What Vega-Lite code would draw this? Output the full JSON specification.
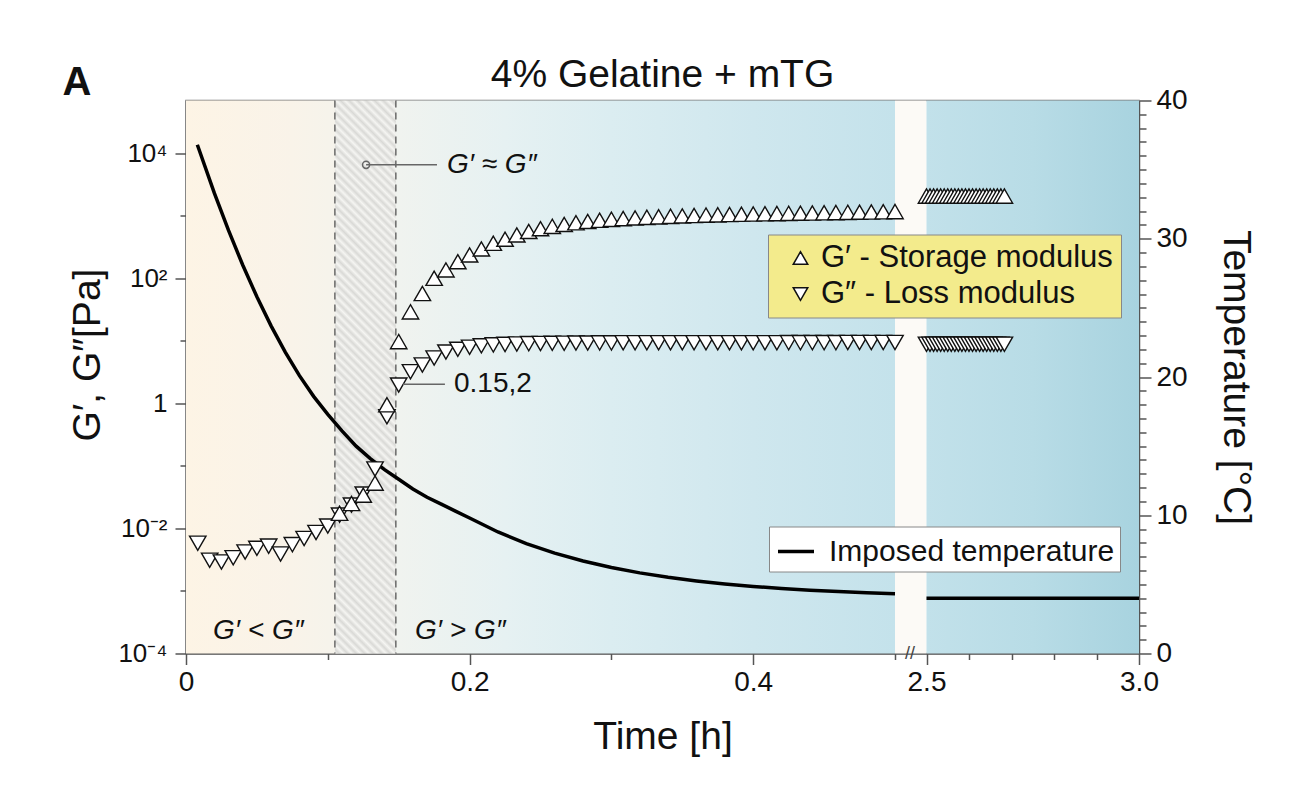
{
  "$schema": "https://vega.github.io/schema/vega-lite/v6.json",
  "autosize": {"type": "none"},
  "width": 953,
  "height": 553,
  "padding": {"left": 186, "top": 100.5, "right": 171, "bottom": 141.5},
  "background": "white",
  "title": {"text": "4% Gelatine + mTG", "fontSize": 39, "fontWeight": "normal", "font": "Liberation Sans", "color": "#111", "anchor": "middle", "frame": "group", "offset": -32},
  "config": {
    "font": "Liberation Sans",
    "view": {"stroke": "#777", "strokeWidth": 1.5},
    "axis": {"labelFont": "Liberation Sans", "titleFont": "Liberation Sans", "labelColor": "#111", "titleColor": "#111", "domainColor": "#555", "tickColor": "#555", "domainWidth": 1.5, "tickWidth": 1.5, "grid": false, "titleFontWeight": "normal", "labelFontSize": 28, "titleFontSize": 39, "labelOverlap": false, "labelFlush": false},
    "legend": {"labelFont": "Liberation Sans", "labelFontSize": 30, "labelColor": "#111", "labelLimit": 0, "strokeColor": "#888", "padding": 8},
    "text": {"font": "Liberation Sans", "color": "#111"}
  },
  "datasets": {
    "temp": [
      {"t": 0.008, "T": 36.8, "g": 1}, {"t": 0.02, "T": 33.3, "g": 1}, {"t": 0.03, "T": 30.6, "g": 1}, {"t": 0.04, "T": 28.1, "g": 1},
      {"t": 0.05, "T": 25.8, "g": 1}, {"t": 0.06, "T": 23.7, "g": 1}, {"t": 0.07, "T": 21.8, "g": 1}, {"t": 0.08, "T": 20.1, "g": 1},
      {"t": 0.09, "T": 18.6, "g": 1}, {"t": 0.1, "T": 17.3, "g": 1}, {"t": 0.11, "T": 16.1, "g": 1}, {"t": 0.12, "T": 15.0, "g": 1},
      {"t": 0.13, "T": 14.1, "g": 1}, {"t": 0.14, "T": 13.3, "g": 1}, {"t": 0.15, "T": 12.6, "g": 1}, {"t": 0.16, "T": 11.9, "g": 1},
      {"t": 0.17, "T": 11.3, "g": 1}, {"t": 0.18, "T": 10.8, "g": 1}, {"t": 0.19, "T": 10.3, "g": 1}, {"t": 0.2, "T": 9.8, "g": 1},
      {"t": 0.22, "T": 8.79, "g": 1}, {"t": 0.24, "T": 7.95, "g": 1}, {"t": 0.26, "T": 7.26, "g": 1}, {"t": 0.28, "T": 6.69, "g": 1},
      {"t": 0.3, "T": 6.22, "g": 1}, {"t": 0.32, "T": 5.83, "g": 1}, {"t": 0.34, "T": 5.51, "g": 1}, {"t": 0.36, "T": 5.25, "g": 1},
      {"t": 0.38, "T": 5.03, "g": 1}, {"t": 0.4, "T": 4.85, "g": 1}, {"t": 0.42, "T": 4.7, "g": 1}, {"t": 0.44, "T": 4.58, "g": 1},
      {"t": 0.46, "T": 4.48, "g": 1}, {"t": 0.48, "T": 4.39, "g": 1}, {"t": 0.5, "T": 4.33, "g": 1},
      {"t": 2.5, "T": 4.0, "g": 2}, {"t": 3.0, "T": 4.0, "g": 2}
    ],
    "mod": [
      {"t": 0.0083, "v": 0.0058, "s": "b"}, {"t": 0.0167, "v": 0.0031, "s": "b"}, {"t": 0.025, "v": 0.0029, "s": "b"}, {"t": 0.0333, "v": 0.0034, "s": "b"},
      {"t": 0.0417, "v": 0.0042, "s": "b"}, {"t": 0.05, "v": 0.0048, "s": "b"}, {"t": 0.0583, "v": 0.0052, "s": "b"}, {"t": 0.0667, "v": 0.0039, "s": "b"},
      {"t": 0.075, "v": 0.0055, "s": "b"}, {"t": 0.0833, "v": 0.0069, "s": "b"}, {"t": 0.0917, "v": 0.0086, "s": "b"}, {"t": 0.1, "v": 0.0109, "s": "b"},
      {"t": 0.1083, "v": 0.0163, "s": "b"}, {"t": 0.1167, "v": 0.0236, "s": "b"}, {"t": 0.125, "v": 0.0354, "s": "b"}, {"t": 0.1333, "v": 0.089, "s": "b"},
      {"t": 0.1417, "v": 0.61, "s": "b"}, {"t": 0.15, "v": 1.96, "s": "b"}, {"t": 0.1583, "v": 3.2, "s": "b"}, {"t": 0.1667, "v": 4.1, "s": "b"},
      {"t": 0.175, "v": 5.3, "s": "b"}, {"t": 0.1833, "v": 6.6, "s": "b"}, {"t": 0.1917, "v": 7.3, "s": "b"}, {"t": 0.2, "v": 7.9, "s": "b"},
      {"t": 0.2083, "v": 8.3, "s": "b"}, {"t": 0.2167, "v": 8.6, "s": "b"}, {"t": 0.225, "v": 8.75, "s": "b"}, {"t": 0.2333, "v": 8.9, "s": "b"},
      {"t": 0.2417, "v": 9.0, "s": "b"}, {"t": 0.25, "v": 9.05, "s": "b"}, {"t": 0.2583, "v": 9.1, "s": "b"}, {"t": 0.2667, "v": 9.15, "s": "b"},
      {"t": 0.275, "v": 9.2, "s": "b"}, {"t": 0.2833, "v": 9.2, "s": "b"}, {"t": 0.2917, "v": 9.25, "s": "b"}, {"t": 0.3, "v": 9.25, "s": "b"},
      {"t": 0.3083, "v": 9.3, "s": "b"}, {"t": 0.3167, "v": 9.3, "s": "b"}, {"t": 0.325, "v": 9.3, "s": "b"}, {"t": 0.3333, "v": 9.3, "s": "b"},
      {"t": 0.3417, "v": 9.3, "s": "b"}, {"t": 0.35, "v": 9.3, "s": "b"}, {"t": 0.3583, "v": 9.3, "s": "b"}, {"t": 0.3667, "v": 9.3, "s": "b"},
      {"t": 0.375, "v": 9.3, "s": "b"}, {"t": 0.3833, "v": 9.3, "s": "b"}, {"t": 0.3917, "v": 9.3, "s": "b"}, {"t": 0.4, "v": 9.3, "s": "b"},
      {"t": 0.4083, "v": 9.3, "s": "b"}, {"t": 0.4167, "v": 9.3, "s": "b"}, {"t": 0.425, "v": 9.35, "s": "b"}, {"t": 0.4333, "v": 9.35, "s": "b"},
      {"t": 0.4417, "v": 9.35, "s": "b"}, {"t": 0.45, "v": 9.35, "s": "b"}, {"t": 0.4583, "v": 9.35, "s": "b"}, {"t": 0.4667, "v": 9.4, "s": "b"},
      {"t": 0.475, "v": 9.4, "s": "b"}, {"t": 0.4833, "v": 9.4, "s": "b"}, {"t": 0.4917, "v": 9.4, "s": "b"}, {"t": 0.5, "v": 9.4, "s": "b"},
      {"t": 0.1083, "v": 0.0175, "s": "a"}, {"t": 0.1167, "v": 0.025, "s": "a"}, {"t": 0.125, "v": 0.034, "s": "a"}, {"t": 0.1333, "v": 0.053, "s": "a"},
      {"t": 0.1417, "v": 0.95, "s": "a"}, {"t": 0.15, "v": 9.7, "s": "a"}, {"t": 0.1583, "v": 29, "s": "a"}, {"t": 0.1667, "v": 57, "s": "a"},
      {"t": 0.175, "v": 100, "s": "a"}, {"t": 0.1833, "v": 136, "s": "a"}, {"t": 0.1917, "v": 184, "s": "a"}, {"t": 0.2, "v": 236, "s": "a"},
      {"t": 0.2083, "v": 294, "s": "a"}, {"t": 0.2167, "v": 363, "s": "a"}, {"t": 0.225, "v": 421, "s": "a"}, {"t": 0.2333, "v": 493, "s": "a"},
      {"t": 0.2417, "v": 560, "s": "a"}, {"t": 0.25, "v": 620, "s": "a"}, {"t": 0.2583, "v": 675, "s": "a"}, {"t": 0.2667, "v": 725, "s": "a"},
      {"t": 0.275, "v": 770, "s": "a"}, {"t": 0.2833, "v": 810, "s": "a"}, {"t": 0.2917, "v": 845, "s": "a"}, {"t": 0.3, "v": 875, "s": "a"},
      {"t": 0.3083, "v": 900, "s": "a"}, {"t": 0.3167, "v": 922, "s": "a"}, {"t": 0.325, "v": 942, "s": "a"}, {"t": 0.3333, "v": 960, "s": "a"},
      {"t": 0.3417, "v": 977, "s": "a"}, {"t": 0.35, "v": 993, "s": "a"}, {"t": 0.3583, "v": 1008, "s": "a"}, {"t": 0.3667, "v": 1021, "s": "a"},
      {"t": 0.375, "v": 1033, "s": "a"}, {"t": 0.3833, "v": 1044, "s": "a"}, {"t": 0.3917, "v": 1054, "s": "a"}, {"t": 0.4, "v": 1064, "s": "a"},
      {"t": 0.4083, "v": 1073, "s": "a"}, {"t": 0.4167, "v": 1082, "s": "a"}, {"t": 0.425, "v": 1090, "s": "a"}, {"t": 0.4333, "v": 1098, "s": "a"},
      {"t": 0.4417, "v": 1106, "s": "a"}, {"t": 0.45, "v": 1114, "s": "a"}, {"t": 0.4583, "v": 1122, "s": "a"}, {"t": 0.4667, "v": 1130, "s": "a"},
      {"t": 0.475, "v": 1138, "s": "a"}, {"t": 0.4833, "v": 1146, "s": "a"}, {"t": 0.4917, "v": 1155, "s": "a"}, {"t": 0.5, "v": 1164, "s": "a"},
      {"t": 2.5, "v": 8.8, "s": "b"}, {"t": 2.5083, "v": 8.8, "s": "b"}, {"t": 2.5167, "v": 8.8, "s": "b"}, {"t": 2.525, "v": 8.8, "s": "b"},
      {"t": 2.5333, "v": 8.8, "s": "b"}, {"t": 2.5417, "v": 8.8, "s": "b"}, {"t": 2.55, "v": 8.8, "s": "b"}, {"t": 2.5583, "v": 8.8, "s": "b"},
      {"t": 2.5667, "v": 8.8, "s": "b"}, {"t": 2.575, "v": 8.8, "s": "b"}, {"t": 2.5833, "v": 8.8, "s": "b"}, {"t": 2.5917, "v": 8.8, "s": "b"},
      {"t": 2.6, "v": 8.8, "s": "b"}, {"t": 2.6083, "v": 8.8, "s": "b"}, {"t": 2.6167, "v": 8.8, "s": "b"}, {"t": 2.625, "v": 8.8, "s": "b"},
      {"t": 2.6333, "v": 8.8, "s": "b"}, {"t": 2.6417, "v": 8.8, "s": "b"}, {"t": 2.65, "v": 8.8, "s": "b"}, {"t": 2.6583, "v": 8.8, "s": "b"},
      {"t": 2.6667, "v": 8.8, "s": "b"}, {"t": 2.675, "v": 8.8, "s": "b"}, {"t": 2.6833, "v": 8.8, "s": "b"},
      {"t": 2.5, "v": 2060, "s": "a"}, {"t": 2.5083, "v": 2060, "s": "a"}, {"t": 2.5167, "v": 2060, "s": "a"}, {"t": 2.525, "v": 2060, "s": "a"},
      {"t": 2.5333, "v": 2060, "s": "a"}, {"t": 2.5417, "v": 2060, "s": "a"}, {"t": 2.55, "v": 2060, "s": "a"}, {"t": 2.5583, "v": 2060, "s": "a"},
      {"t": 2.5667, "v": 2060, "s": "a"}, {"t": 2.575, "v": 2060, "s": "a"}, {"t": 2.5833, "v": 2060, "s": "a"}, {"t": 2.5917, "v": 2060, "s": "a"},
      {"t": 2.6, "v": 2060, "s": "a"}, {"t": 2.6083, "v": 2060, "s": "a"}, {"t": 2.6167, "v": 2060, "s": "a"}, {"t": 2.625, "v": 2060, "s": "a"},
      {"t": 2.6333, "v": 2060, "s": "a"}, {"t": 2.6417, "v": 2060, "s": "a"}, {"t": 2.65, "v": 2060, "s": "a"}, {"t": 2.6583, "v": 2060, "s": "a"},
      {"t": 2.6667, "v": 2060, "s": "a"}, {"t": 2.675, "v": 2060, "s": "a"}, {"t": 2.6833, "v": 2060, "s": "a"}
    ]
  },
  "encoding": {
    "x": {
      "field": "t", "type": "quantitative",
      "scale": {"domain": [0, 0.5, 2.5, 3], "range": [0, 709, 740.5, 953], "nice": false, "zero": false},
      "axis": {
        "values": [0, 0.1, 0.2, 0.3, 0.4, 0.5, 2.5, 2.6, 2.7, 2.8, 2.9, 3],
        "labelExpr": "datum.value == 0 ? '0' : datum.value == 0.2 ? '0.2' : datum.value == 0.4 ? '0.4' : datum.value == 2.5 ? '2.5' : datum.value == 3 ? '3.0' : ''",
        "tickSize": {"condition": {"test": "indexof([0, 0.2, 0.4, 2.5, 3], datum.value) >= 0", "value": 11}, "value": 6},
        "labelPadding": 4,
        "title": "Time [h]",
        "titlePadding": 21
      }
    }
  },
  "layer": [
    {
      "data": {"values": [{"t": 0, "t2": 0.5}]},
      "mark": {"type": "rect", "fill": {"gradient": "linear", "x1": 0, "y1": 0, "x2": 1, "y2": 0, "stops": [
        {"offset": 0, "color": "#fdf4e5"}, {"offset": 0.15, "color": "#f9f3e9"}, {"offset": 0.3, "color": "#f0f3ef"},
        {"offset": 0.45, "color": "#e6f1f2"}, {"offset": 0.6, "color": "#dbedf1"}, {"offset": 0.8, "color": "#cfe7ee"}, {"offset": 1, "color": "#c4e2eb"}]}},
      "encoding": {"x2": {"field": "t2"}}
    },
    {
      "data": {"values": [{"t": 0.5, "t2": 2.5}]},
      "mark": {"type": "rect", "fill": "#fcfaf6"},
      "encoding": {"x2": {"field": "t2"}}
    },
    {
      "data": {"values": [{"t": 2.5, "t2": 3}]},
      "mark": {"type": "rect", "fill": {"gradient": "linear", "x1": 0, "y1": 0, "x2": 1, "y2": 0, "stops": [
        {"offset": 0, "color": "#c2e1ea"}, {"offset": 0.5, "color": "#b8dce6"}, {"offset": 1, "color": "#a8d3df"}]}},
      "encoding": {"x2": {"field": "t2"}}
    },
    {
      "data": {"values": [{"t": 0.105, "t2": 0.148}]},
      "mark": {"type": "rect", "fill": {"gradient": "linear", "x1": 0, "y1": 1, "x2": 0.121, "y2": -0.097, "stops": [
        {"offset": 0, "color": "#f5f5f2"}, {"offset": 0.0069, "color": "#d9d9d6"}, {"offset": 0.0139, "color": "#f5f5f2"}, {"offset": 0.0208, "color": "#d9d9d6"},
        {"offset": 0.0278, "color": "#f5f5f2"}, {"offset": 0.0347, "color": "#d9d9d6"}, {"offset": 0.0417, "color": "#f5f5f2"}, {"offset": 0.0486, "color": "#d9d9d6"},
        {"offset": 0.0556, "color": "#f5f5f2"}, {"offset": 0.0625, "color": "#d9d9d6"}, {"offset": 0.0694, "color": "#f5f5f2"}, {"offset": 0.0764, "color": "#d9d9d6"},
        {"offset": 0.0833, "color": "#f5f5f2"}, {"offset": 0.0903, "color": "#d9d9d6"}, {"offset": 0.0972, "color": "#f5f5f2"}, {"offset": 0.1042, "color": "#d9d9d6"},
        {"offset": 0.1111, "color": "#f5f5f2"}, {"offset": 0.1181, "color": "#d9d9d6"}, {"offset": 0.125, "color": "#f5f5f2"}, {"offset": 0.1319, "color": "#d9d9d6"},
        {"offset": 0.1389, "color": "#f5f5f2"}, {"offset": 0.1458, "color": "#d9d9d6"}, {"offset": 0.1528, "color": "#f5f5f2"}, {"offset": 0.1597, "color": "#d9d9d6"},
        {"offset": 0.1667, "color": "#f5f5f2"}, {"offset": 0.1736, "color": "#d9d9d6"}, {"offset": 0.1806, "color": "#f5f5f2"}, {"offset": 0.1875, "color": "#d9d9d6"},
        {"offset": 0.1944, "color": "#f5f5f2"}, {"offset": 0.2014, "color": "#d9d9d6"}, {"offset": 0.2083, "color": "#f5f5f2"}, {"offset": 0.2153, "color": "#d9d9d6"},
        {"offset": 0.2222, "color": "#f5f5f2"}, {"offset": 0.2292, "color": "#d9d9d6"}, {"offset": 0.2361, "color": "#f5f5f2"}, {"offset": 0.2431, "color": "#d9d9d6"},
        {"offset": 0.25, "color": "#f5f5f2"}, {"offset": 0.2569, "color": "#d9d9d6"}, {"offset": 0.2639, "color": "#f5f5f2"}, {"offset": 0.2708, "color": "#d9d9d6"},
        {"offset": 0.2778, "color": "#f5f5f2"}, {"offset": 0.2847, "color": "#d9d9d6"}, {"offset": 0.2917, "color": "#f5f5f2"}, {"offset": 0.2986, "color": "#d9d9d6"},
        {"offset": 0.3056, "color": "#f5f5f2"}, {"offset": 0.3125, "color": "#d9d9d6"}, {"offset": 0.3194, "color": "#f5f5f2"}, {"offset": 0.3264, "color": "#d9d9d6"},
        {"offset": 0.3333, "color": "#f5f5f2"}, {"offset": 0.3403, "color": "#d9d9d6"}, {"offset": 0.3472, "color": "#f5f5f2"}, {"offset": 0.3542, "color": "#d9d9d6"},
        {"offset": 0.3611, "color": "#f5f5f2"}, {"offset": 0.3681, "color": "#d9d9d6"}, {"offset": 0.375, "color": "#f5f5f2"}, {"offset": 0.3819, "color": "#d9d9d6"},
        {"offset": 0.3889, "color": "#f5f5f2"}, {"offset": 0.3958, "color": "#d9d9d6"}, {"offset": 0.4028, "color": "#f5f5f2"}, {"offset": 0.4097, "color": "#d9d9d6"},
        {"offset": 0.4167, "color": "#f5f5f2"}, {"offset": 0.4236, "color": "#d9d9d6"}, {"offset": 0.4306, "color": "#f5f5f2"}, {"offset": 0.4375, "color": "#d9d9d6"},
        {"offset": 0.4444, "color": "#f5f5f2"}, {"offset": 0.4514, "color": "#d9d9d6"}, {"offset": 0.4583, "color": "#f5f5f2"}, {"offset": 0.4653, "color": "#d9d9d6"},
        {"offset": 0.4722, "color": "#f5f5f2"}, {"offset": 0.4792, "color": "#d9d9d6"}, {"offset": 0.4861, "color": "#f5f5f2"}, {"offset": 0.4931, "color": "#d9d9d6"},
        {"offset": 0.5, "color": "#f5f5f2"}, {"offset": 0.5069, "color": "#d9d9d6"}, {"offset": 0.5139, "color": "#f5f5f2"}, {"offset": 0.5208, "color": "#d9d9d6"},
        {"offset": 0.5278, "color": "#f5f5f2"}, {"offset": 0.5347, "color": "#d9d9d6"}, {"offset": 0.5417, "color": "#f5f5f2"}, {"offset": 0.5486, "color": "#d9d9d6"},
        {"offset": 0.5556, "color": "#f5f5f2"}, {"offset": 0.5625, "color": "#d9d9d6"}, {"offset": 0.5694, "color": "#f5f5f2"}, {"offset": 0.5764, "color": "#d9d9d6"},
        {"offset": 0.5833, "color": "#f5f5f2"}, {"offset": 0.5903, "color": "#d9d9d6"}, {"offset": 0.5972, "color": "#f5f5f2"}, {"offset": 0.6042, "color": "#d9d9d6"},
        {"offset": 0.6111, "color": "#f5f5f2"}, {"offset": 0.6181, "color": "#d9d9d6"}, {"offset": 0.625, "color": "#f5f5f2"}, {"offset": 0.6319, "color": "#d9d9d6"},
        {"offset": 0.6389, "color": "#f5f5f2"}, {"offset": 0.6458, "color": "#d9d9d6"}, {"offset": 0.6528, "color": "#f5f5f2"}, {"offset": 0.6597, "color": "#d9d9d6"},
        {"offset": 0.6667, "color": "#f5f5f2"}, {"offset": 0.6736, "color": "#d9d9d6"}, {"offset": 0.6806, "color": "#f5f5f2"}, {"offset": 0.6875, "color": "#d9d9d6"},
        {"offset": 0.6944, "color": "#f5f5f2"}, {"offset": 0.7014, "color": "#d9d9d6"}, {"offset": 0.7083, "color": "#f5f5f2"}, {"offset": 0.7153, "color": "#d9d9d6"},
        {"offset": 0.7222, "color": "#f5f5f2"}, {"offset": 0.7292, "color": "#d9d9d6"}, {"offset": 0.7361, "color": "#f5f5f2"}, {"offset": 0.7431, "color": "#d9d9d6"},
        {"offset": 0.75, "color": "#f5f5f2"}, {"offset": 0.7569, "color": "#d9d9d6"}, {"offset": 0.7639, "color": "#f5f5f2"}, {"offset": 0.7708, "color": "#d9d9d6"},
        {"offset": 0.7778, "color": "#f5f5f2"}, {"offset": 0.7847, "color": "#d9d9d6"}, {"offset": 0.7917, "color": "#f5f5f2"}, {"offset": 0.7986, "color": "#d9d9d6"},
        {"offset": 0.8056, "color": "#f5f5f2"}, {"offset": 0.8125, "color": "#d9d9d6"}, {"offset": 0.8194, "color": "#f5f5f2"}, {"offset": 0.8264, "color": "#d9d9d6"},
        {"offset": 0.8333, "color": "#f5f5f2"}, {"offset": 0.8403, "color": "#d9d9d6"}, {"offset": 0.8472, "color": "#f5f5f2"}, {"offset": 0.8542, "color": "#d9d9d6"},
        {"offset": 0.8611, "color": "#f5f5f2"}, {"offset": 0.8681, "color": "#d9d9d6"}, {"offset": 0.875, "color": "#f5f5f2"}, {"offset": 0.8819, "color": "#d9d9d6"},
        {"offset": 0.8889, "color": "#f5f5f2"}, {"offset": 0.8958, "color": "#d9d9d6"}, {"offset": 0.9028, "color": "#f5f5f2"}, {"offset": 0.9097, "color": "#d9d9d6"},
        {"offset": 0.9167, "color": "#f5f5f2"}, {"offset": 0.9236, "color": "#d9d9d6"}, {"offset": 0.9306, "color": "#f5f5f2"}, {"offset": 0.9375, "color": "#d9d9d6"},
        {"offset": 0.9444, "color": "#f5f5f2"}, {"offset": 0.9514, "color": "#d9d9d6"}, {"offset": 0.9583, "color": "#f5f5f2"}, {"offset": 0.9653, "color": "#d9d9d6"},
        {"offset": 0.9722, "color": "#f5f5f2"}, {"offset": 0.9792, "color": "#d9d9d6"}, {"offset": 0.9861, "color": "#f5f5f2"}, {"offset": 0.9931, "color": "#d9d9d6"},
        {"offset": 1, "color": "#f5f5f2"}]}},
      "encoding": {"x2": {"field": "t2"}}
    },
    {
      "data": {"values": [{"t": 0.105}, {"t": 0.148}]},
      "mark": {"type": "rule", "color": "#555", "strokeWidth": 1.3, "strokeDash": [7, 5]},
      "encoding": {}
    },
    {
      "data": {"name": "temp"},
      "mark": {"type": "line", "strokeWidth": 3.5},
      "encoding": {
        "y": {"field": "T", "type": "quantitative", "scale": {"domain": [0, 40], "nice": false, "zero": false},
          "axis": {"orient": "right", "title": "Temperature [°C]", "titlePadding": 28, "labelPadding": 5,
            "values": [0,1,2,3,4,5,6,7,8,9,10,11,12,13,14,15,16,17,18,19,20,21,22,23,24,25,26,27,28,29,30,31,32,33,34,35,36,37,38,39,40],
            "labelExpr": "datum.value % 10 == 0 ? '' + datum.value : ''",
            "tickSize": {"condition": {"test": "datum.value % 10 == 0", "value": 12}, "value": 7}}},
        "detail": {"field": "g"},
        "stroke": {"datum": "Imposed temperature", "type": "nominal", "scale": {"range": ["#000000"]},
          "legend": {"title": null, "orient": "none", "legendX": 583, "legendY": 426, "fillColor": "#ffffff", "symbolType": "stroke", "symbolSize": 1296, "symbolStrokeWidth": 3.5, "symbolOffset": 2, "labelOffset": 13, "padding": 5}}
      }
    },
    {
      "encoding": {
        "y": {"field": "v", "type": "quantitative",
          "scale": {"type": "log", "domain": [0.0001, 69500], "nice": false},
          "axis": {"orient": "left", "title": "G′, G″[Pa]", "titlePadding": 10, "titleY": 254, "labelPadding": 8, "labelFontSize": 26,
            "values": [0.0001, 0.001, 0.01, 0.1, 1, 10, 100, 1000, 10000],
            "labelExpr": "datum.value == 1 ? '1' : datum.value == 100 ? '10²' : datum.value == 10000 ? '10⁴' : datum.value == 0.01 ? '10⁻²' : datum.value == 0.0001 ? '10⁻⁴' : ''",
            "tickSize": {"condition": {"test": "indexof([0.0001, 0.01, 1, 100, 10000], datum.value) >= 0", "value": 11}, "value": 6}}}
      },
      "layer": [
        {
          "data": {"name": "mod"},
          "mark": {"type": "point", "filled": true, "fill": "#ffffff", "stroke": "#111", "strokeWidth": 1.4, "size": 270, "opacity": 1},
          "encoding": {
            "shape": {"field": "s", "type": "nominal",
              "scale": {"domain": ["a", "b"], "range": ["triangle-up", "triangle-down"]},
              "legend": {"title": null, "orient": "none", "legendX": 582, "legendY": 134, "fillColor": "#f3eb8c", "symbolSize": 210, "symbolOffset": 9, "labelOffset": 5, "rowPadding": 4, "labelFontSize": 31,
                "labelExpr": "datum.value == 'a' ? 'G′ - Storage modulus' : 'G″ - Loss modulus'",
                "encode": {"symbols": {"update": {"fill": {"value": "#ffffff"}, "stroke": {"value": "#111111"}, "strokeWidth": {"value": 1.4}, "opacity": {"value": 1}}}}}}
          }
        },
        {
          "data": {"values": [{"t": 0.127, "t2": 0.177, "v": 6500}, {"t": 0.153, "t2": 0.1826, "v": 2.01}]},
          "mark": {"type": "rule", "color": "#666", "strokeWidth": 1.5},
          "encoding": {"x2": {"field": "t2"}}
        },
        {
          "data": {"values": [{"t": 0.127, "v": 6500}]},
          "mark": {"type": "point", "shape": "circle", "filled": false, "stroke": "#666", "strokeWidth": 1.5, "size": 50, "opacity": 1}
        },
        {
          "data": {"values": [
            {"t": 0.184, "v": 6500, "label": "G′ ≈ G″"},
            {"t": 0.019, "v": 0.000228, "label": "G′ < G″"},
            {"t": 0.1615, "v": 0.000228, "label": "G′ > G″"}
          ]},
          "mark": {"type": "text", "align": "left", "baseline": "middle", "fontSize": 28, "fontStyle": "italic"},
          "encoding": {"text": {"field": "label"}}
        },
        {
          "data": {"values": [{"t": 0.189, "v": 2.01, "label": "0.15,2"}]},
          "mark": {"type": "text", "align": "left", "baseline": "middle", "fontSize": 28},
          "encoding": {"text": {"field": "label"}}
        },
        {
          "data": {"values": [{"t": -0.077, "v": 85700, "label": "A"}]},
          "mark": {"type": "text", "align": "center", "baseline": "alphabetic", "fontSize": 40, "fontWeight": "bold"},
          "encoding": {"text": {"field": "label"}}
        },
        {
          "data": {"values": [{"t": 1.45, "v": 0.0001, "label": "//"}]},
          "mark": {"type": "text", "align": "center", "baseline": "middle", "fontSize": 18, "color": "#444"},
          "encoding": {"text": {"field": "label"}}
        }
      ]
    }
  ],
  "resolve": {"scale": {"y": "independent"}, "axis": {"y": "independent"}}
}
